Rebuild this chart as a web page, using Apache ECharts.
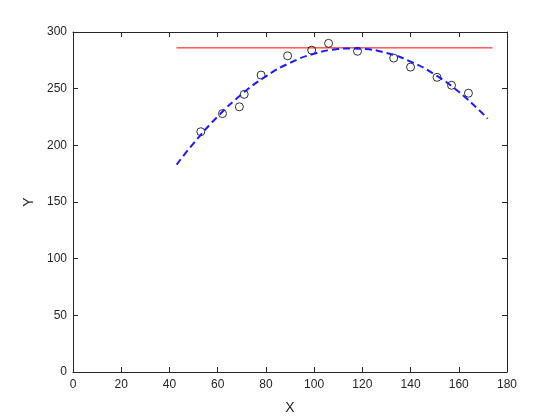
<!DOCTYPE html>
<html>
<head>
<meta charset="utf-8">
<script src="https://cdn.jsdelivr.net/npm/echarts@6/dist/echarts.min.js"></script>
<style>
html,body{margin:0;padding:0;background:#fff;}
#c{width:560px;height:420px;}
</style>
</head>
<body>
<div id="c"></div>
<script>
var dataX = [53, 62, 69, 71, 78, 89, 99, 106, 118, 133, 140, 151, 157, 164];
var dataY = [212, 228, 234, 245, 262, 279, 284, 290, 283, 277, 269, 260, 253, 246];
var fitX = [43, 50, 60, 70, 80, 90, 100, 110, 115, 120, 130, 140, 150, 160, 170, 172];
var fitY = [183, 201.8, 225.4, 245.1, 260.9, 272.8, 280.8, 284.9, 285.5, 285.1, 281.5, 273.9, 262.5, 247.2, 227.9, 223.6];
var refX = [43, 174];
var refY = [286, 286];
var xTicks = [0, 20, 40, 60, 80, 100, 120, 140, 160, 180];
var yTicks = [0, 50, 100, 150, 200, 250, 300];

function pairs(a, b) { return a.map(function (v, i) { return [v, b[i]]; }); }

var axisCol = '#262626';
var font = 'Liberation Sans, Arial, sans-serif';
var chart = echarts.init(document.getElementById('c'), null, {renderer: 'canvas'});
function baseAxis(extra) {
  var o = {
    type: 'value',
    axisLine: {show: true, onZero: false, lineStyle: {color: axisCol, width: 1}},
    axisTick: {show: true, inside: true, length: 5, lineStyle: {color: axisCol}},
    splitLine: {show: false},
    axisLabel: {color: axisCol, fontSize: 12, fontFamily: font}
  };
  for (var k in extra) o[k] = extra[k];
  return o;
}
var xMin = xTicks[0], xMax = xTicks[xTicks.length - 1], xInt = xTicks[1] - xTicks[0];
var yMin = yTicks[0], yMax = yTicks[yTicks.length - 1], yInt = yTicks[1] - yTicks[0];
chart.setOption({
  backgroundColor: '#fff',
  animation: false,
  grid: {left: 73, right: 53, top: 32, bottom: 47, containLabel: false},
  xAxis: [
    baseAxis({min: xMin, max: xMax, interval: xInt, position: 'bottom', name: 'X', nameLocation: 'middle', nameGap: 29,
      nameTextStyle: {color: axisCol, fontSize: 14, fontFamily: font}, axisLabel: {color: axisCol, fontSize: 12, fontFamily: font, margin: 7}}),
    baseAxis({min: xMin, max: xMax, interval: xInt, position: 'top', axisLabel: {show: false}})
  ],
  yAxis: [
    baseAxis({min: yMin, max: yMax, interval: yInt, position: 'left', name: 'Y', nameLocation: 'middle', nameGap: 35,
      nameTextStyle: {color: axisCol, fontSize: 14, fontFamily: font}, axisLabel: {color: axisCol, fontSize: 12, fontFamily: font, margin: 6}}),
    baseAxis({min: yMin, max: yMax, interval: yInt, position: 'right', axisLabel: {show: false}})
  ],
  series: [
    {
      type: 'scatter', data: pairs(dataX, dataY), symbol: 'circle', symbolSize: 8,
      itemStyle: {color: 'rgba(0,0,0,0)', borderColor: '#000', borderWidth: 1}, z: 2
    },
    {
      type: 'line', data: pairs(fitX, fitY), smooth: true, showSymbol: false,
      lineStyle: {color: '#1a1aff', width: 2, type: [7, 4]}, z: 3
    },
    {
      type: 'line', data: pairs(refX, refY), showSymbol: false,
      lineStyle: {color: '#ff0000', width: 1}, z: 1
    }
  ]
});
</script>
</body>
</html>
